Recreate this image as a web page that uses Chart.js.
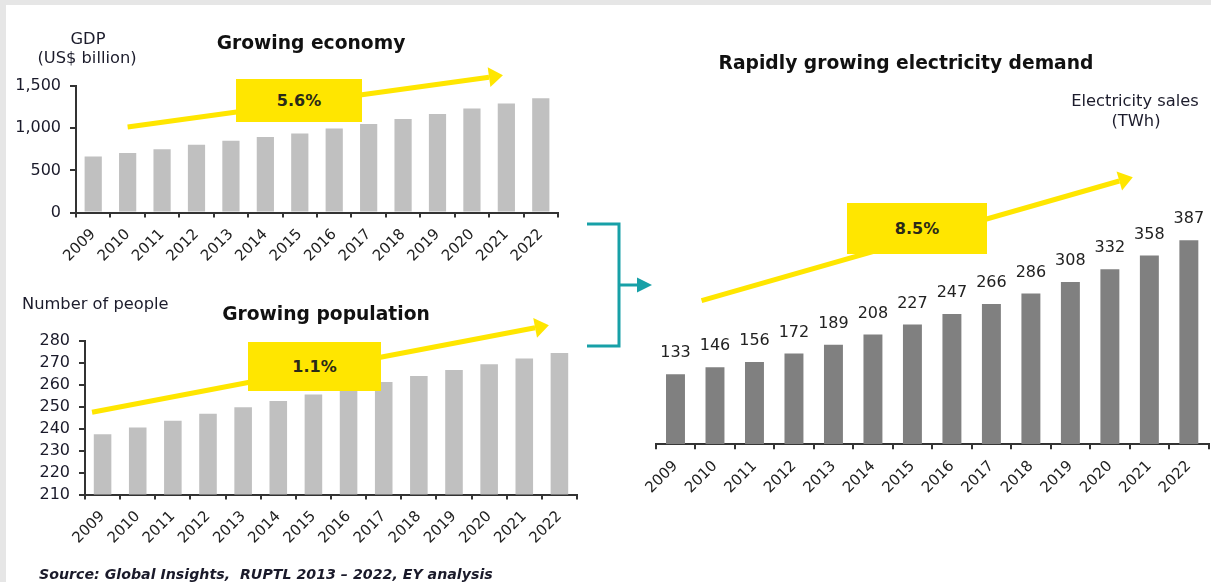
<!DOCTYPE html>
<html>
<head>
<meta charset="utf-8">
<script src="https://cdn.jsdelivr.net/npm/chart.js@4.4.1/dist/chart.umd.min.js"></script>
<style>
  html, body { margin: 0; padding: 0; }
  body { width: 1211px; height: 582px; background: #e6e6e6; position: relative; overflow: hidden;
         font-family: "DejaVu Sans", Verdana, sans-serif; color: #1a1a1a; }
  #panel { position: absolute; left: 6px; top: 5px; right: 0; bottom: 0; background: #fff; }
  canvas { position: absolute; }
  .txt { position: absolute; white-space: nowrap; transform: translate(-50%, -50%); }
  .title { font-weight: bold; font-size: 18.7px; color: #111; }
  .unit { font-size: 16.3px; color: #1c1c2c; }
  .box { position: absolute; background: #ffe600; display: flex; align-items: center; justify-content: center;
         font-weight: bold; font-size: 16px; color: #2a2a18; }
  .src { position: absolute; left: 39px; top: 574px; transform: translateY(-50%); white-space: nowrap;
         font-weight: bold; font-style: italic; font-size: 14.2px; color: #1a1a2a; }
  svg { position: absolute; left: 0; top: 0; }
</style>
</head>
<body>
<div id="panel"></div>

<canvas id="gdpChart" width="580" height="225" style="left:0;top:55px"></canvas>
<canvas id="popChart" width="600" height="255" style="left:0;top:300px"></canvas>
<canvas id="elecChart" width="571" height="350" style="left:640px;top:160px"></canvas>

<svg width="1211" height="582">
  <polyline points="587,224 619,224 619,346 587,346" fill="none" stroke="#17a0a7" stroke-width="3"/>
  <line x1="619" y1="285" x2="639" y2="285" stroke="#17a0a7" stroke-width="3"/>
  <polygon points="637,277.5 652,285 637,292.5" fill="#17a0a7"/>
</svg>

<div class="txt title" style="left:311px;top:42px">Growing economy</div>
<div class="txt unit" style="left:88px;top:38px">GDP</div>
<div class="txt unit" style="left:87px;top:57px">(US$ billion)</div>
<div class="box" style="left:236px;top:79px;width:126px;height:43px">5.6%</div>

<div class="txt title" style="left:326px;top:313px">Growing population</div>
<div class="unit" style="position:absolute;left:22px;top:294px;white-space:nowrap">Number of people</div>
<div class="box" style="left:248px;top:342px;width:133px;height:49px">1.1%</div>

<div class="txt title" style="left:906px;top:62px">Rapidly growing electricity demand</div>
<div class="txt unit" style="left:1135px;top:100px">Electricity sales</div>
<div class="txt unit" style="left:1136px;top:120px">(TWh)</div>
<div class="box" style="left:847px;top:203px;width:140px;height:51px">8.5%</div>

<div class="src">Source: Global Insights,&nbsp; RUPTL 2013 – 2022, EY analysis</div>

<script>
const years = ['2009', '2010', '2011', '2012', '2013', '2014', '2015', '2016', '2017', '2018', '2019', '2020', '2021', '2022'];
const gdpValues = [665, 705, 752, 803, 851, 896, 938, 995, 1050, 1110, 1168, 1232, 1292, 1355];
const populationValues = [237.5, 240.6, 243.7, 246.8, 249.8, 252.7, 255.6, 258.5, 261.3, 264.1, 266.8, 269.4, 272.0, 274.5];
const electricityValues = [133, 146, 156, 172, 189, 208, 227, 247, 266, 286, 308, 332, 358, 387];

// growth arrows, given as [category index, value] on each chart's own scales
const gdpArrow = { from: [1.0, 1014], to: [11.9, 1627] };
const popArrow = { from: [-0.3, 247.5], to: [12.7, 287.2] };
const elecArrow = { from: [0.66, 272.5], to: [11.58, 506.6] };

const FONT = '"DejaVu Sans", Verdana, sans-serif';

// draws the yellow trend arrow and the value labels above bars
const annotate = {
  id: 'annotate',
  afterDraw(chart, args, opts) {
    const ctx = chart.ctx, x = chart.scales.x, y = chart.scales.y;
    if (opts.values) {
      const meta = chart.getDatasetMeta(0);
      ctx.save();
      ctx.font = '16px ' + FONT;
      ctx.fillStyle = '#222';
      ctx.textAlign = 'center';
      ctx.textBaseline = 'middle';
      meta.data.forEach((bar, i) => ctx.fillText(opts.values[i], bar.x, bar.y - 21));
      ctx.restore();
    }
    if (opts.arrow) {
      const x0 = x.getPixelForValue(opts.arrow.from[0]), y0 = y.getPixelForValue(opts.arrow.from[1]);
      const x1 = x.getPixelForValue(opts.arrow.to[0]), y1 = y.getPixelForValue(opts.arrow.to[1]);
      const a = Math.atan2(y1 - y0, x1 - x0);
      const head = 14, half = 10;
      const bx = x1 - head * Math.cos(a), by = y1 - head * Math.sin(a);
      ctx.save();
      ctx.strokeStyle = ctx.fillStyle = '#ffe600';
      ctx.lineWidth = 5;
      ctx.beginPath(); ctx.moveTo(x0, y0); ctx.lineTo(bx, by); ctx.stroke();
      ctx.beginPath();
      ctx.moveTo(x1, y1);
      ctx.lineTo(bx - half * Math.sin(a), by + half * Math.cos(a));
      ctx.lineTo(bx + half * Math.sin(a), by - half * Math.cos(a));
      ctx.closePath(); ctx.fill();
      ctx.restore();
    }
  }
};

function barChart(id, values, color, barPct, cfg) {
  return new Chart(document.getElementById(id), {
    type: 'bar',
    data: { labels: years, datasets: [{ data: values, backgroundColor: color, barPercentage: barPct, categoryPercentage: 1 }] },
    options: {
      responsive: false,
      animation: false,
      layout: { padding: cfg.padding },
      plugins: { legend: { display: false }, tooltip: { enabled: false }, annotate: cfg.annotate },
      scales: {
        x: {
          grid: { drawOnChartArea: false, tickLength: 5, color: '#333', lineWidth: 2, offset: true },
          border: { color: '#333', width: 2 },
          ticks: { font: { family: FONT, size: 15 }, color: '#222', minRotation: 45, maxRotation: 45, autoSkip: false, padding: 8 },
          afterFit: s => { s.height = cfg.xHeight; }
        },
        y: cfg.y
      }
    },
    plugins: [annotate]
  });
}

const yTicks = { font: { family: FONT, size: 16 }, color: '#1a1a2a', padding: 9, autoSkip: false };
const yGrid = { drawOnChartArea: false, tickLength: 6, color: '#333', lineWidth: 2 };

barChart('gdpChart', gdpValues, '#c0c0c0', 0.5, {
  padding: { top: 31, right: 22 },
  xHeight: 67.4,
  annotate: { arrow: gdpArrow },
  y: { min: 0, max: 1500, ticks: Object.assign({ stepSize: 500 }, yTicks), grid: yGrid,
       border: { color: '#333', width: 2 }, afterFit: s => { s.width = 76; } }
});

barChart('popChart', populationValues, '#c0c0c0', 0.5, {
  padding: { top: 41, right: 23 },
  xHeight: 60.4,
  annotate: { arrow: popArrow },
  y: { min: 210, max: 280, ticks: Object.assign({ stepSize: 10 }, yTicks), grid: yGrid,
       border: { color: '#333', width: 2 }, afterFit: s => { s.width = 85; } }
});

barChart('elecChart', electricityValues, '#808080', 0.48, {
  padding: { top: 47, right: 2.4, left: 14 },
  xHeight: 65.7,
  annotate: { arrow: elecArrow, values: electricityValues },
  y: { display: false, min: 0, max: 450 }
});
</script>
</body>
</html>
